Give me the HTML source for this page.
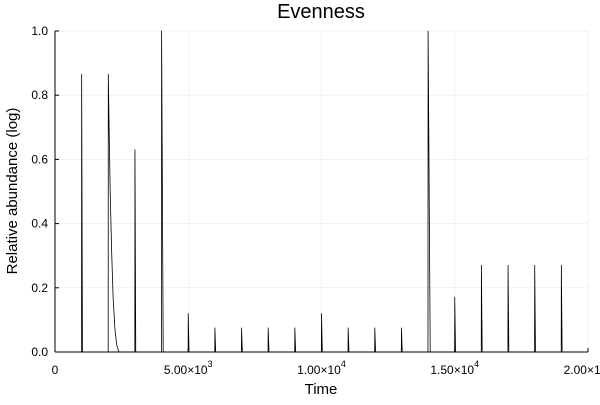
<!DOCTYPE html>
<html><head><meta charset="utf-8"><style>
body{margin:0;background:#fff}
text{font-family:"Liberation Sans","DejaVu Sans",sans-serif;fill:#000}
</style></head><body>
<svg id="chart" width="600" height="400">
<text x="321" y="18" font-size="20" text-anchor="middle">Evenness</text>
<g id="grid"></g><g id="axes"></g><g id="series"></g>
<text x="321" y="394" font-size="15" text-anchor="middle">Time</text>
<text transform="translate(17,191) rotate(-90)" font-size="15" text-anchor="middle">Relative abundance (log)</text>
</svg>
<script>
const times = [0,995,1000,1030,1995,2000,2030,2070,2127,2180,2250,2320,2400,2995,3000,3030,3995,4000,4060,4995,5000,5030,5995,6000,6030,6995,7000,7030,7995,8000,8030,8995,9000,9030,9995,10000,10030,10995,11000,11030,11995,12000,12030,12995,13000,13030,13995,14000,14080,14995,15000,15030,15995,16000,16030,16995,17000,17030,17995,18000,18030,18995,19000,19030,20000];
const values = [0,0,0.865,0,0,0.865,0.7,0.5,0.31,0.17,0.07,0.02,0,0,0.63,0,0,1.0,0,0,0.12,0,0,0.075,0,0,0.075,0,0,0.075,0,0,0.075,0,0,0.12,0,0,0.075,0,0,0.075,0,0,0.075,0,0,1.0,0,0,0.17,0,0,0.27,0,0,0.27,0,0,0.27,0,0,0.27,0,0];
const xTicks = [0,5000,10000,15000,20000];
const xTickLabels = ["0","5.00×10|3","1.00×10|4","1.50×10|4","2.00×10|4"];
const yTicks = [0,0.2,0.4,0.6,0.8,1.0];
const yTickLabels = ["0.0","0.2","0.4","0.6","0.8","1.0"];
const L=55,R=588,T=31,B=352;
const xs=t=>L+(t/20000)*(R-L), ys=v=>B-v*(B-T);
const NS="http://www.w3.org/2000/svg";
function mk(tag,attrs,parent){const e=document.createElementNS(NS,tag);for(const k in attrs)e.setAttribute(k,attrs[k]);parent.appendChild(e);return e;}
const grid=document.getElementById('grid'),axes=document.getElementById('axes'),ser=document.getElementById('series');
xTicks.forEach((t,i)=>{
  const g=mk('line',{x1:xs(t),x2:xs(t),y1:T,y2:B,stroke:'#000','stroke-opacity':0.1,'stroke-width':0.5},grid);
  
  
  const tk=mk('line',{x1:xs(t),x2:xs(t),y1:B,y2:B-4,stroke:'#000'},axes);
  
  
  const parts=xTickLabels[i].split('|');
  const tx=mk('text',{x:xs(t),y:B+22,'font-size':12,'text-anchor':'middle'},axes);
  
  
  tx.textContent=parts[0];
  if(parts[1]){const s=document.createElementNS(NS,'tspan');s.setAttribute('dy',-7);s.setAttribute('font-size',9);s.textContent=parts[1];tx.appendChild(s);}
});
yTicks.forEach((v,i)=>{
  const g=mk('line',{x1:L,x2:R,y1:ys(v),y2:ys(v),stroke:'#000','stroke-opacity':0.1,'stroke-width':0.5},grid);
  
  
  const tk=mk('line',{x1:L,x2:L+4,y1:ys(v),y2:ys(v),stroke:'#000'},axes);
  
  
  const tx=mk('text',{x:L-7,y:ys(v)+4,'font-size':12,'text-anchor':'end'},axes);
  
  
  tx.textContent=yTickLabels[i];
});
const xa=mk('line',{x1:L,x2:R,y1:B,y2:B,stroke:'#000'},axes);


const ya=mk('line',{x1:L,x2:L,y1:T,y2:B,stroke:'#000'},axes);


const pts=times.map((t,i)=>xs(t).toFixed(2)+','+ys(values[i]).toFixed(2)).join(' ');
const pl=mk('polyline',{points:pts,fill:'none',stroke:'#000','stroke-width':0.8,'stroke-linejoin':'round'},ser);


</script>
</body></html>
